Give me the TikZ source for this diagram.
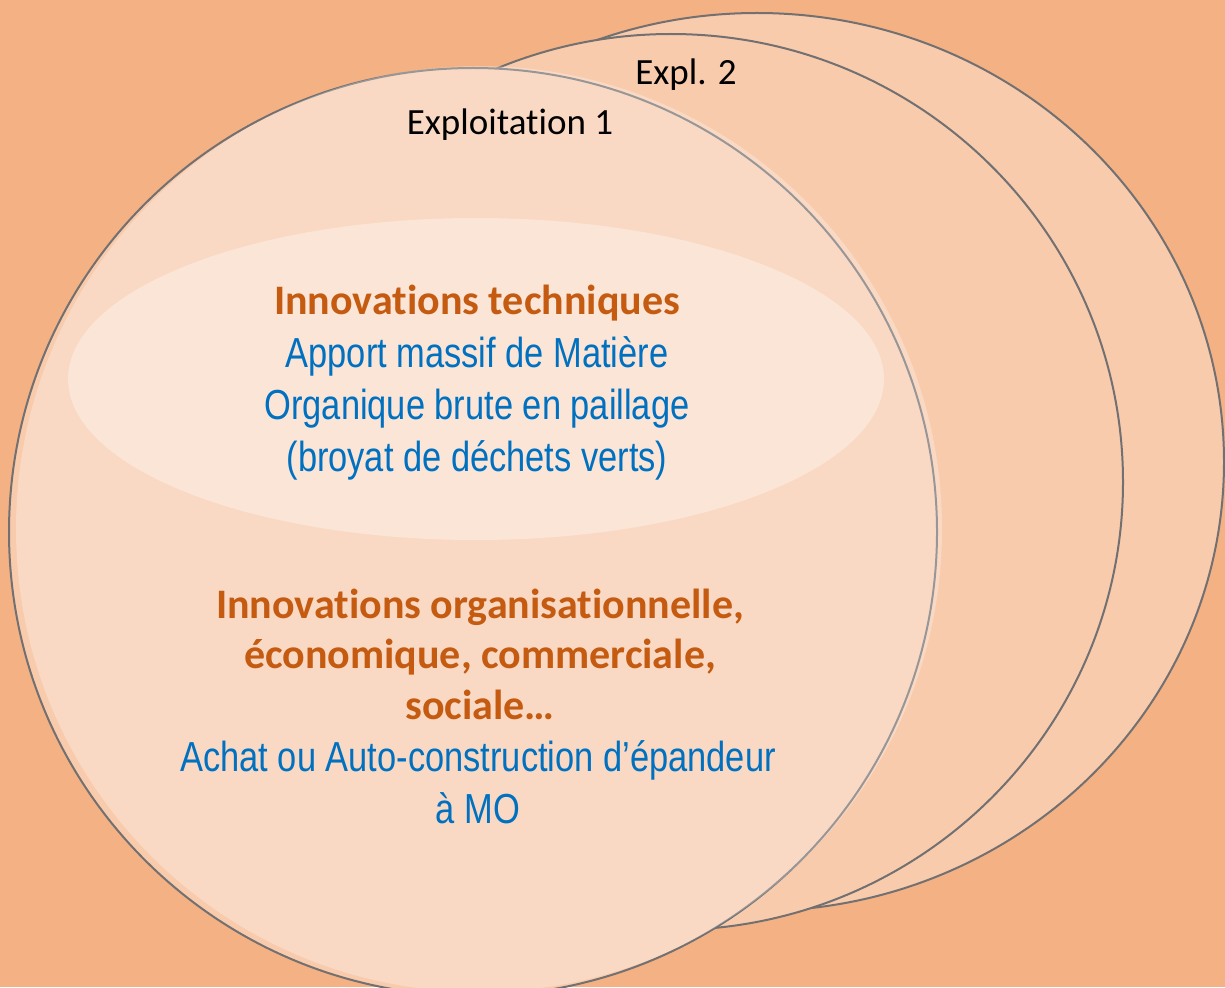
\documentclass[tikz,border=0pt]{standalone}
\usepackage{fontspec}
\setmainfont[Ligatures=NoCommon]{Carlito}
\newfontfamily\narrowfont[FakeStretch=0.82]{Liberation Sans}
\newcommand{\tiNoLig}{t\kern0pt i}
\definecolor{bgcol}{HTML}{F4B183}
\definecolor{circfill}{HTML}{F8CBAD}
\definecolor{innerfill}{HTML}{FBE5D6}
\definecolor{titlecol}{HTML}{C55A11}
\definecolor{bluecol}{HTML}{0070C0}
\definecolor{edgecol}{HTML}{727070}
\tikzset{
  farm/.style={draw=edgecol, line width=2pt, fill=circfill},
  farmlabel/.style={font=\fontsize{37}{44}\selectfont, text=black, inner sep=0pt},
  heading/.style={font=\fontsize{42}{50.5}\selectfont\bfseries, text=titlecol, align=center, inner sep=0pt},
  bluetext/.style={font=\narrowfont\fontsize{42}{52}\selectfont, text=bluecol, align=center, inner sep=0pt}
}
\begin{document}
\begin{tikzpicture}[x=1pt,y=-1pt]
\useasboundingbox (0,0) rectangle (1225,987);
\fill[bgcol] (0,0) rectangle (1225,987);
% back farm
\path[farm] (757,462) ellipse [x radius=467pt, y radius=449pt];
% middle farm (Expl. 2)
\path[farm] (671,482) ellipse [x radius=452pt, y radius=448pt];
% front farm (Exploitation 1)
\begin{scope}
\clip (0,0) rectangle (1225,987);
\path[farm] (473,532) circle [radius=464pt];
\fill[white, fill opacity=0.27] (479,529) circle [radius=463pt];
\end{scope}
% inner ellipse
\fill[innerfill] (476,379) ellipse [x radius=408pt, y radius=161pt];
% labels
\node[farmlabel] (e2) at (686,75) {Expl. 2};
\node[farmlabel] (e1) at (510,125) {Exploita\tiNoLig on 1};
\node[heading] (tech) at (477,303) {Innova\tiNoLig ons techniques};
\node[bluetext] (techtxt) at (477,408) {Apport massif de Mati\`ere\\Organique brute en paillage\\(broyat de d\'echets verts)};
\node[heading] (orga) at (480,654) {Innova\tiNoLig ons organisa\tiNoLig onnelle,\\\'economique, commerciale,\\sociale\ldots};
\node[bluetext] (orgatxt) at (478,782) {Achat ou Auto-construction d’\'epandeur\\\`a MO};
\end{tikzpicture}
\end{document}
